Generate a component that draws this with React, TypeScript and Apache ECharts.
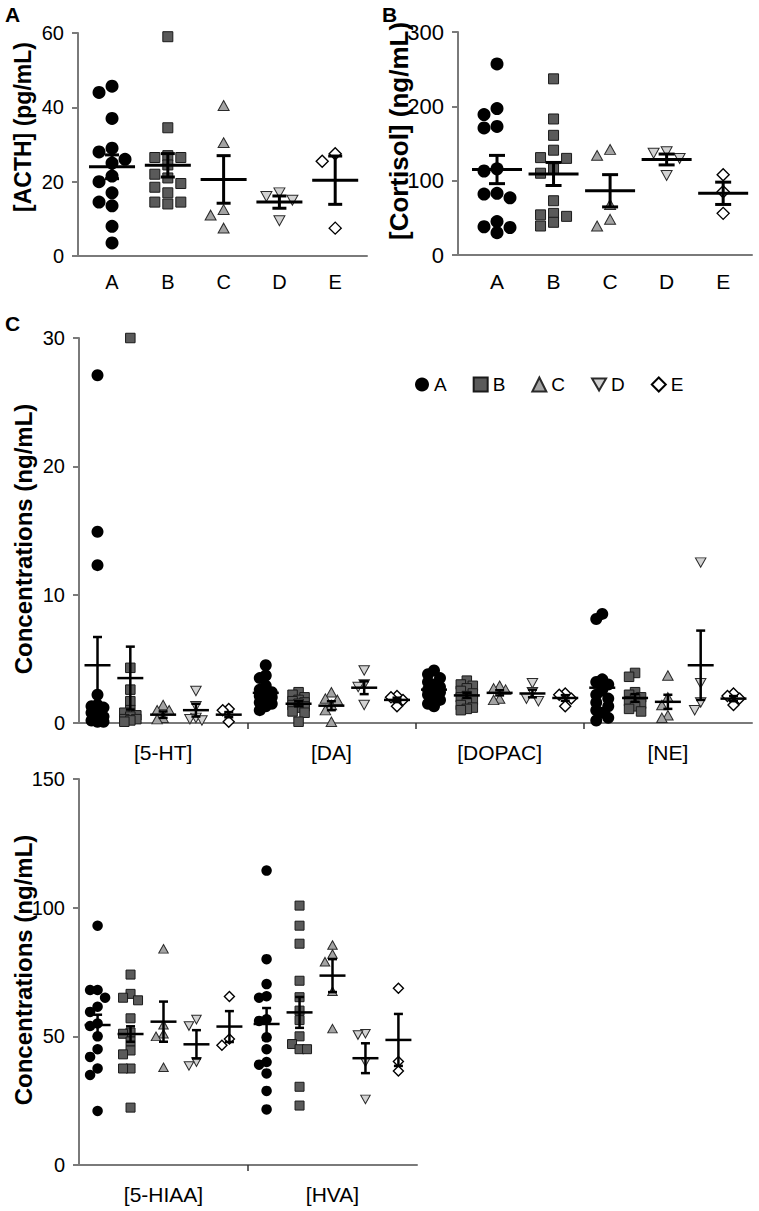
import React, { useEffect, useRef } from 'react';
import * as echarts from 'echarts';

// ---------- Data ----------
const groupNames = ['A', 'B', 'C', 'D', 'E'];
const monoCategories = ['[5-HT]', '[DA]', '[DOPAC]', '[NE]'];
const metaboliteCategories = ['[5-HIAA]', '[HVA]'];

// Panel A: [ACTH] (pg/mL)
const acthValues = [
  [45.7, 44.0, 37.0, 29.0, 28.0, 26.0, 25.0, 21.5, 20.0, 17.0, 14.5, 13.5, 8.0, 3.5],
  [59.0, 34.5, 27.0, 26.5, 26.5, 24.5, 22.0, 21.0, 19.5, 18.5, 17.0, 14.5, 14.5, 14.0],
  [40.5, 30.5, 12.5, 11.0, 7.5],
  [17.0, 16.0, 15.0, 9.5],
  [27.5, 25.5, 7.5],
];
const acthMean = [24.0, 24.4, 20.6, 14.5, 20.4];
const acthSem = [3.2, 3.15, 6.4, 1.65, 6.5];

// Panel B: [Cortisol] (ng/mL)
const cortisolValues = [
  [257, 197, 189, 173, 171, 116, 113, 83, 82, 77, 45, 38, 37, 30],
  [237, 183, 161, 141, 131, 130, 116, 110, 73, 56, 54, 52, 44, 39],
  [142, 134, 68, 48, 39],
  [139, 137, 130, 107],
  [108, 85, 56],
];
const cortisolMean = [115, 109, 86.4, 128.5, 83];
const cortisolSem = [19, 15.5, 21.7, 7.3, 15];

// Panel C: monoamines (ng/mL)
const ht5Values = [
  [27.1, 14.9, 12.3, 2.2, 1.4, 1.3, 1.2, 1.0, 0.8, 0.5, 0.3, 0.2, 0.1, 0.1],
  [30.0, 4.3, 2.6, 1.7, 1.0, 0.8, 0.6, 0.5, 0.3, 0.3, 0.2, 0.1],
  [1.4, 1.0, 1.0, 0.4, 0.3],
  [2.5, 1.3, 0.4, 0.3, 0.2],
  [1.1, 1.0, 0.1],
];
const ht5Mean = [4.5, 3.5, 0.65, 1.0, 0.65];
const ht5Sem = [2.2, 2.45, 0.25, 0.5, 0.2];

const daValues = [
  [4.5, 3.7, 3.5, 2.9, 2.6, 2.4, 2.3, 2.1, 2.0, 1.9, 1.6, 1.5, 1.3, 1.0],
  [2.4, 2.2, 2.0, 1.8, 1.7, 1.6, 1.5, 1.4, 1.3, 1.2, 0.9, 0.8, 0.1],
  [2.4, 1.9, 1.8, 1.4, 1.0, 0.1],
  [4.1, 3.0, 2.8, 1.4],
  [2.1, 2.0, 1.8, 1.3],
];
const daMean = [2.35, 1.5, 1.35, 2.75, 1.8];
const daSem = [0.3, 0.2, 0.35, 0.5, 0.17];

const dopacValues = [
  [4.1, 3.8, 3.5, 3.2, 3.0, 2.8, 2.6, 2.5, 2.4, 2.2, 2.0, 1.8, 1.5, 1.3],
  [3.3, 3.0, 2.9, 2.7, 2.5, 2.3, 2.1, 2.0, 1.8, 1.6, 1.4, 1.2, 1.1, 1.0],
  [2.9, 2.7, 2.6, 1.9, 1.8],
  [3.1, 2.4, 1.9, 1.7],
  [2.3, 2.2, 1.9, 1.3],
];
const dopacMean = [2.6, 2.15, 2.35, 2.3, 1.95];
const dopacSem = [0.22, 0.2, 0.2, 0.3, 0.22];

const neValues = [
  [8.5, 8.1, 3.4, 3.2, 3.0, 2.6, 2.2, 1.9, 1.6, 1.3, 1.0, 0.8, 0.4, 0.2],
  [3.9, 3.6, 2.4, 2.2, 2.0, 1.9, 1.7, 1.5, 1.3, 1.1, 0.9],
  [3.7, 2.0, 1.4, 0.6, 0.4],
  [12.5, 3.1, 1.6, 1.0],
  [2.3, 2.1, 1.9, 1.4],
];
const neMean = [2.75, 1.95, 1.65, 4.5, 1.9];
const neSem = [0.6, 0.3, 0.55, 2.7, 0.2];

// Bottom panel: metabolites (ng/mL)
const hiaa5Values = [
  [93, 68, 68, 65, 61.5, 59.5, 55, 54, 50, 45, 42, 37.5, 35, 21],
  [74, 66.5, 65, 64, 57, 51.5, 51, 48, 44.5, 43, 37.5, 37.5, 22.3],
  [84, 54.5, 51, 50, 38],
  [56.5, 54, 40, 38.5],
  [65.5, 49, 46.5],
];
const hiaa5Mean = [54.4, 50.9, 55.7, 46.9, 53.8];
const hiaa5Sem = [4.0, 3.0, 7.8, 5.5, 6.0];

const hvaValues = [
  [114.4, 80, 70.3, 65.6, 65, 56.6, 56, 49.6, 45, 40, 39, 35.6, 28.8, 21.6],
  [100.8, 93, 86, 71.6, 65.2, 60, 56.3, 50, 47, 45, 45, 30.4, 23.1],
  [85.5, 82, 79, 67.5, 53],
  [51, 50.5, 40, 25.5],
  [68.7, 40.2, 36.5],
];
const hvaMean = [54.8, 59.3, 73.6, 41.5, 48.6];
const hvaSem = [6.2, 6.0, 6.4, 5.8, 10.1];

// ---------- Styling ----------
const FONT = '"Liberation Sans", Arial, Helvetica, sans-serif';
const AXIS_GRAY = '#7a7a7a';
const groupFill = ['#000000', '#5a5a5a', '#a3a3a3', '#d2d2d2', '#ffffff'];
const groupStroke = ['#000000', '#1a1a1a', '#2a2a2a', '#2a2a2a', '#000000'];
const groupBorder = [0, 1, 1, 1, 1.4];
const downTri = 'path://M0,0L10,0L5,8.7Z';
const groupSymbol = ['circle', 'rect', 'triangle', downTri, 'diamond'];
const groupFrac = [0.11, 0.305, 0.5, 0.695, 0.89];

type Measure = { values: number[][]; means: number[]; sems: number[] };
type Panel = {
  grid: { left: number; top: number; width: number; height: number };
  xMin: number; xMax: number; yMax: number; yInterval: number;
  cats: string[] | null;
  measures: Measure[];
  sizes: number[];
  step: number; minDist: number; maxK: number;
  meanHalf: number; capHalf: number; lw: number;
  tickFont: number; catFont: number; catMargin: number;
};

const panels: Panel[] = [
  {
    grid: { left: 78, top: 33, width: 289, height: 223 },
    xMin: 0.39, xMax: 5.57, yMax: 60, yInterval: 20, cats: null,
    measures: [{ values: acthValues, means: acthMean, sems: acthSem }],
    sizes: [13, 10, 11, 11, 12], step: 13, minDist: 12, maxK: 3,
    meanHalf: 23, capHalf: 7, lw: 3, tickFont: 20, catFont: 20, catMargin: 16,
  },
  {
    grid: { left: 458, top: 32, width: 294, height: 223 },
    xMin: 0.31, xMax: 5.51, yMax: 300, yInterval: 100, cats: null,
    measures: [{ values: cortisolValues, means: cortisolMean, sems: cortisolSem }],
    sizes: [13, 10, 11, 11, 12], step: 13, minDist: 12, maxK: 3,
    meanHalf: 25, capHalf: 8, lw: 3, tickFont: 22, catFont: 21, catMargin: 16,
  },
  {
    grid: { left: 79, top: 338, width: 673, height: 385 },
    xMin: 0, xMax: 4, yMax: 30, yInterval: 10, cats: monoCategories,
    measures: [
      { values: ht5Values, means: ht5Mean, sems: ht5Sem },
      { values: daValues, means: daMean, sems: daSem },
      { values: dopacValues, means: dopacMean, sems: dopacSem },
      { values: neValues, means: neMean, sems: neSem },
    ],
    sizes: [12, 9.5, 10.5, 10.5, 11], step: 6, minDist: 8, maxK: 3,
    meanHalf: 13, capHalf: 4.5, lw: 2.5, tickFont: 20, catFont: 21, catMargin: 19,
  },
  {
    grid: { left: 79, top: 779, width: 338, height: 386 },
    xMin: 0, xMax: 2, yMax: 150, yInterval: 50, cats: metaboliteCategories,
    measures: [
      { values: hiaa5Values, means: hiaa5Mean, sems: hiaa5Sem },
      { values: hvaValues, means: hvaMean, sems: hvaSem },
    ],
    sizes: [10.5, 9, 9.5, 9.5, 10], step: 7.5, minDist: 9, maxK: 3,
    meanHalf: 13, capHalf: 4.5, lw: 2.5, tickFont: 20, catFont: 21, catMargin: 19,
  },
];

// simple beeswarm: returns horizontal pixel offsets (limited to maxK candidate slots)
function swarm(values: number[], yPx: number, step: number, minDist: number, maxK: number): number[] {
  const order = values.map((_, i) => i).sort((a, b) => values[b] - values[a]);
  const placed: { x: number; y: number }[] = [];
  const offs = new Array(values.length).fill(0);
  for (const i of order) {
    const y = values[i] * yPx;
    let best = 0;
    let bestD = -1;
    for (let k = 0; k < maxK; k++) {
      const n = Math.ceil(k / 2);
      const cand = k === 0 ? 0 : k % 2 === 1 ? -n * step : n * step;
      let d = Infinity;
      for (const p of placed) d = Math.min(d, Math.hypot(p.x - cand, p.y - y));
      if (d >= minDist) { best = cand; bestD = d; break; }
      if (d > bestD) { bestD = d; best = cand; }
    }
    placed.push({ x: best, y });
    offs[i] = best;
  }
  return offs;
}

function buildOption() {
  const grids: any[] = [];
  const xAxes: any[] = [];
  const yAxes: any[] = [];
  const series: any[] = [];

  panels.forEach((p, pi) => {
    grids.push({ ...p.grid, containLabel: false });
    const xUnit = p.grid.width / (p.xMax - p.xMin);
    const yPx = p.grid.height / p.yMax;
    const axisLine = { show: true, lineStyle: { color: AXIS_GRAY, width: 2 } };
    if (p.cats) {
      const cats = p.cats;
      xAxes.push({
        type: 'value', gridIndex: pi, min: p.xMin, max: p.xMax,
        axisLine,
        axisTick: { show: true, customValues: cats.slice(1).map((_, i) => i + 1), length: 6, lineStyle: { color: '#333', width: 1.5 } },
        splitLine: { show: false },
        axisLabel: {
          customValues: cats.map((_, i) => i + 0.5),
          formatter: (v: number) => cats[Math.floor(v)] ?? '',
          fontSize: p.catFont, color: '#000', fontFamily: FONT, margin: p.catMargin,
        },
      });
    } else {
      xAxes.push({
        type: 'value', gridIndex: pi, min: p.xMin, max: p.xMax,
        axisLine,
        axisTick: { show: false },
        splitLine: { show: false },
        axisLabel: {
          customValues: groupNames.map((_, i) => i + 1),
          formatter: (v: number) => groupNames[Math.round(v) - 1] ?? '',
          fontSize: p.catFont, color: '#000', fontFamily: FONT, margin: p.catMargin,
        },
      });
    }
    yAxes.push({
      type: 'value', gridIndex: pi, min: 0, max: p.yMax, interval: p.yInterval,
      axisLine,
      axisTick: { show: true, length: 6, lineStyle: { color: AXIS_GRAY, width: 2 } },
      splitLine: { show: false },
      axisLabel: { fontSize: p.tickFont, color: '#000', fontFamily: FONT, margin: 14 },
    });

    const errData: number[][] = [];
    groupNames.forEach((gName, g) => {
      const pts: number[][] = [];
      p.measures.forEach((m, mi) => {
        const xc = p.cats ? mi + groupFrac[g] : g + 1;
        const vals = m.values[g];
        const offs = swarm(vals, yPx, p.step, p.minDist, p.maxK);
        vals.forEach((v, i) => pts.push([xc + offs[i] / xUnit, v]));
        errData.push([xc, m.means[g], m.sems[g]]);
      });
      const s = p.sizes[g];
      series.push({
        type: 'scatter', name: gName, xAxisIndex: pi, yAxisIndex: pi, z: 2,
        symbol: groupSymbol[g],
        symbolSize: g === 2 || g === 3 ? [s, s * 0.9] : s,
        itemStyle: { color: groupFill[g], borderColor: groupStroke[g], borderWidth: groupBorder[g], opacity: 1 },
        emphasis: { disabled: true },
        data: pts,
      });
    });
    const { meanHalf, capHalf, lw } = p;
    series.push({
      type: 'custom', xAxisIndex: pi, yAxisIndex: pi, z: 5, silent: true,
      data: errData,
      renderItem: (_params: any, api: any) => {
        const x = api.value(0);
        const mval = api.value(1);
        const sval = api.value(2);
        const c = api.coord([x, mval]);
        const t = api.coord([x, mval + sval]);
        const b = api.coord([x, mval - sval]);
        const style = { stroke: '#000', lineWidth: lw, fill: null };
        return {
          type: 'group',
          children: [
            { type: 'line', shape: { x1: c[0] - meanHalf, y1: c[1], x2: c[0] + meanHalf, y2: c[1] }, style },
            { type: 'line', shape: { x1: c[0], y1: t[1], x2: c[0], y2: b[1] }, style },
            { type: 'line', shape: { x1: c[0] - capHalf, y1: t[1], x2: c[0] + capHalf, y2: t[1] }, style },
            { type: 'line', shape: { x1: c[0] - capHalf, y1: b[1], x2: c[0] + capHalf, y2: b[1] }, style },
          ],
        };
      },
    });
  });

  const legendIcons = ['circle', 'rect', 'triangle', downTri, 'diamond'];

  return {
    animation: false,
    backgroundColor: '#ffffff',
    textStyle: { fontFamily: FONT },
    grid: grids,
    xAxis: xAxes,
    yAxis: yAxes,
    series,
    legend: {
      left: 410, top: 370, orient: 'horizontal',
      itemWidth: 14, itemHeight: 14, itemGap: 26, selectedMode: false,
      textStyle: { fontSize: 19, color: '#000', fontFamily: FONT },
      data: groupNames.map((n, i) => ({ name: n, icon: legendIcons[i] })),
    },
    graphic: [
      { type: 'text', left: 5, top: 4, style: { text: 'A', font: `bold 21px ${FONT}`, fill: '#000' } },
      { type: 'text', left: 382, top: 4, style: { text: 'B', font: `bold 21px ${FONT}`, fill: '#000' } },
      { type: 'text', left: 5, top: 313, style: { text: 'C', font: `bold 21px ${FONT}`, fill: '#000' } },
      { type: 'text', x: 23, y: 127, rotation: Math.PI / 2, style: { text: '[ACTH] (pg/mL)', font: `bold 23px ${FONT}`, fill: '#000', textAlign: 'center', textVerticalAlign: 'middle' } },
      { type: 'text', x: 399, y: 131, rotation: Math.PI / 2, style: { text: '[Cortisol] (ng/mL)', font: `bold 26px ${FONT}`, fill: '#000', textAlign: 'center', textVerticalAlign: 'middle' } },
      { type: 'text', x: 23, y: 539, rotation: Math.PI / 2, style: { text: 'Concentrations (ng/mL)', font: `bold 24px ${FONT}`, fill: '#000', textAlign: 'center', textVerticalAlign: 'middle' } },
      { type: 'text', x: 23, y: 970, rotation: Math.PI / 2, style: { text: 'Concentrations (ng/mL)', font: `bold 24px ${FONT}`, fill: '#000', textAlign: 'center', textVerticalAlign: 'middle' } },
    ],
  };
}

export default function App() {
  const ref = useRef<HTMLDivElement>(null);
  useEffect(() => {
    if (!ref.current) return;
    const chart = echarts.init(ref.current, null, { renderer: 'svg' });
    chart.setOption(buildOption() as any);
    return () => chart.dispose();
  }, []);
  return (
    <div
      ref={ref}
      style={{ position: 'absolute', left: 0, top: 0, width: 759, height: 1211, background: '#fff' }}
    />
  );
}
